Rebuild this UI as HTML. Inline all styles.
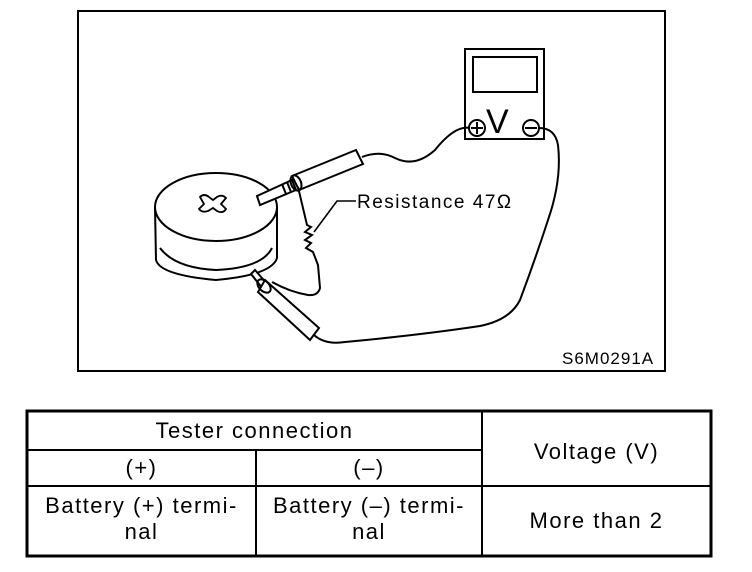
<!DOCTYPE html>
<html><head><style>
body{margin:0;background:#fff;width:752px;height:572px;overflow:hidden;position:relative;font-family:"Liberation Sans",sans-serif;}
svg{position:absolute;left:0;top:0}
.t{position:absolute;font-size:22px;letter-spacing:1.5px;color:#000;text-align:center;line-height:26px}
</style></head><body>
<svg width="752" height="572" viewBox="0 0 752 572">
<g fill="none" stroke="#000" stroke-width="2">
<rect x="78" y="11" width="587" height="360"/>
<!-- meter -->
<rect x="465" y="49" width="79" height="90"/>
<rect x="473" y="57" width="64" height="35"/>
<circle cx="477" cy="128" r="8"/><path d="M471 128h12M477 122v12"/>
<circle cx="531" cy="128" r="8"/><path d="M525 128h12"/>
<!-- battery -->
<path d="M155 207 L156 260 Q160 275 216 280 Q272 275 277 258 L277 207" fill="#fff"/>
<path d="M160 248 Q175 268 216 270 Q262 268 272 248"/>
<ellipse cx="216" cy="207" rx="61" ry="34" fill="#fff"/>
<path d="M200 197 q4 -4 9 0 l4 3 l4 -3 q5 -3 9 1 l-5 6 l5 5 q-3 5 -9 2 l-4 -3 l-5 3 q-6 2 -9 -2 l5 -5 z" stroke-width="1.8"/>
<!-- probe 1 -->
<path d="M257 196 L292 180 L296 190 L260 205 Z" fill="#fff"/>
<path d="M292 176 L356 150 L363 164 L299 190 Z" fill="#fff"/>
<ellipse cx="296" cy="183" rx="5" ry="8" transform="rotate(-22 296 183)"/>
<path d="M282 184 l4 10 M287 182 l4 10"/>
<path d="M362 157 Q380 150 395 158 Q415 168 435 150 Q455 125 470 128"/>
<!-- probe 2 -->
<path d="M255 270 L268 285 L263 289 L251 274 Z" fill="#fff"/>
<path d="M265 280 L319 328 L310 340 L258 292 Z" fill="#fff"/>
<ellipse cx="264" cy="286" rx="5" ry="8" transform="rotate(-45 264 286)"/>
<path d="M314 335 Q325 345 345 342 Q420 335 480 326 Q510 320 520 300 Q535 260 548 220 Q562 180 558 145 Q555 128 539 128"/>
<!-- resistor wire -->
<path d="M298 187 L307 225 L311 227 L305 232 L312 235 L305 240 L311 243 L306 248 L313 252 L318 265 L320 288 Q318 296 308 295 Q290 292 272 282"/>
<path d="M314 232 L337 201 L356 201" stroke-width="1.6"/>
</g>
<text x="357" y="208" font-family="Liberation Sans" font-size="19" letter-spacing="1.5">Resistance  47Ω</text>
<text x="486" y="133" font-family="Liberation Sans" font-size="34">V</text>
<text x="562" y="364" font-family="Liberation Sans" font-size="17" letter-spacing="1">S6M0291A</text>
<g stroke="#000" fill="none">
<rect x="27" y="411" width="684" height="145" stroke-width="3"/>
<path d="M27 450H482M27 486H711M482 411V556M256 450V556" stroke-width="2"/>
</g>
</svg>
<div class="t" style="left:27px;top:418px;width:455px">Tester connection</div>
<div class="t" style="left:27px;top:455px;width:229px">(+)</div>
<div class="t" style="left:256px;top:455px;width:226px">(–)</div>
<div class="t" style="left:482px;top:439px;width:229px">Voltage (V)</div>
<div class="t" style="left:27px;top:493px;width:229px">Battery (+) termi-<br>nal</div>
<div class="t" style="left:256px;top:493px;width:226px">Battery (–) termi-<br>nal</div>
<div class="t" style="left:482px;top:508px;width:229px">More than 2</div>
</body></html>
